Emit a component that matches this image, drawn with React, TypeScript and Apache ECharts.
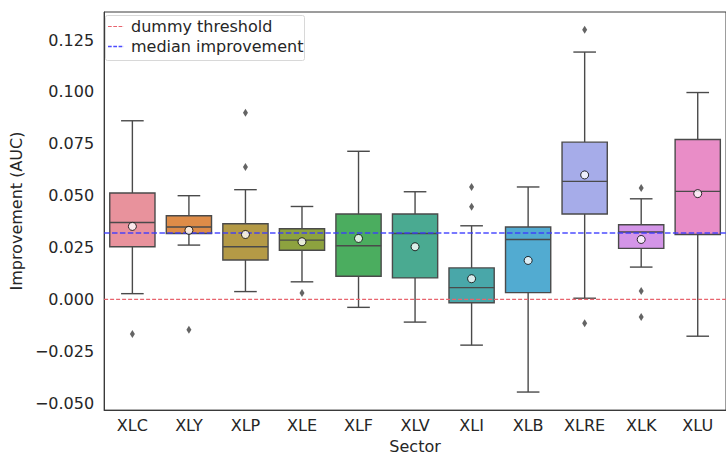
import React, { useEffect, useRef } from "react";
import * as echarts from "echarts";

const sectors = ["XLC", "XLY", "XLP", "XLE", "XLF", "XLV", "XLI", "XLB", "XLRE", "XLK", "XLU"];
const whiskerLow = [0.0028, 0.0262, 0.0038, 0.0085, -0.0038, -0.0109, -0.022, -0.0446, 0.0006, 0.0156, -0.0177];
const q1Values = [0.0254, 0.0318, 0.019, 0.0237, 0.0112, 0.0104, -0.0016, 0.0033, 0.0412, 0.0246, 0.0313];
const medianValues = [0.0371, 0.0349, 0.0254, 0.0286, 0.0259, 0.0318, 0.0057, 0.0289, 0.0569, 0.0325, 0.0521];
const q3Values = [0.0513, 0.0403, 0.0365, 0.0341, 0.0412, 0.0412, 0.0152, 0.0349, 0.0758, 0.036, 0.0771];
const whiskerHigh = [0.0861, 0.05, 0.0529, 0.0448, 0.0714, 0.0519, 0.0355, 0.0542, 0.1192, 0.0485, 0.0997];
const meanValues = [0.0352, 0.0333, 0.0313, 0.0278, 0.0294, 0.0254, 0.01, 0.0188, 0.06, 0.0289, 0.051];
const outliers = [
  [-0.0166],
  [-0.0146],
  [0.09, 0.0638],
  [0.0031],
  [],
  [],
  [0.0542, 0.0447],
  [],
  [0.13, -0.0114],
  [0.0537, 0.0041, -0.0084],
  [],
];
const boxColors = [
  "#e8929c", "#de8c48", "#b49a46", "#8da23f", "#4bad5f", "#4aaa91",
  "#49a7a9", "#52abd1", "#a6ace9", "#d495e8", "#e98dc7",
];
const refLineNames = ["dummy threshold", "median improvement"];
const refLineValues = [0, 0.032];
const yTicks = [-0.05, -0.025, 0, 0.025, 0.05, 0.075, 0.1, 0.125];

const EDGE = "#4a4a4a";
const TEXT = "#262626";
const FONT = "DejaVu Sans";
const FS = 16;
const refStyles = [
  { stroke: "#e8646e", lineWidth: 1.2, lineDash: [4, 2], opacity: 1 },
  { stroke: "#3a3aff", lineWidth: 1.5, lineDash: [5.5, 2.4], opacity: 0.9 },
];

export default function App() {
  const ref = useRef<HTMLDivElement>(null);
  useEffect(() => {
    if (!ref.current) return;
    const chart = echarts.init(ref.current, undefined, { renderer: "svg" });
    const boxData = sectors.map((_, i) => [i, whiskerLow[i], q1Values[i], medianValues[i], q3Values[i], whiskerHigh[i]]);
    const meanData = sectors.map((_, i) => [i, meanValues[i]]);
    const outlierData: number[][] = [];
    outliers.forEach((list, i) => list.forEach((v) => outlierData.push([i, v])));
    const refData = refLineValues.map((v) => [0, v]);

    const option: any = {
      animation: false,
      backgroundColor: "#ffffff",
      grid: {
        left: 101,
        top: 12,
        width: 633,
        height: 405,
        show: true,
        borderColor: "#3a3a3a",
        borderWidth: 1,
        containLabel: false,
      },
      xAxis: {
        type: "category",
        data: sectors,
        boundaryGap: true,
        name: "Sector",
        nameLocation: "middle",
        nameGap: 27,
        nameTextStyle: { color: TEXT, fontFamily: FONT, fontSize: FS },
        axisLine: { show: true, onZero: false, lineStyle: { color: "#3a3a3a", width: 1 } },
        axisTick: { show: false },
        axisLabel: { color: TEXT, fontFamily: FONT, fontSize: FS, margin: 7 },
        splitLine: { show: false },
      },
      yAxis: {
        type: "value",
        min: -0.0533,
        max: 0.1385,
        name: "Improvement (AUC)",
        nameLocation: "middle",
        nameGap: 73,
        nameTextStyle: { color: TEXT, fontFamily: FONT, fontSize: FS },
        axisLine: { show: true, onZero: false, lineStyle: { color: "#3a3a3a", width: 1 } },
        axisTick: { show: false, customValues: yTicks },
        axisLabel: {
          color: TEXT,
          fontFamily: FONT,
          fontSize: FS,
          margin: 10,
          customValues: yTicks,
          formatter: (v: number) => (v < -1e-9 ? "\u2212" : "") + Math.abs(v).toFixed(3),
        },
        splitLine: { show: false },
      },
      series: [
        {
          type: "custom",
          data: boxData,
          encode: { x: 0, y: [1, 2, 3, 4, 5] },
          z: 2,
          renderItem: (params: any, api: any) => {
            const idx = api.value(0);
            const low = api.coord([idx, api.value(1)]);
            const q1 = api.coord([idx, api.value(2)]);
            const med = api.coord([idx, api.value(3)]);
            const q3 = api.coord([idx, api.value(4)]);
            const high = api.coord([idx, api.value(5)]);
            const band = api.size([1, 0])[0];
            const bw = band * 0.8;
            const cw = bw / 2;
            const x = low[0];
            const lineStyle = { stroke: EDGE, lineWidth: 1.4 };
            return {
              type: "group",
              children: [
                { type: "line", shape: { x1: x, y1: high[1], x2: x, y2: q3[1] }, style: lineStyle },
                { type: "line", shape: { x1: x, y1: q1[1], x2: x, y2: low[1] }, style: lineStyle },
                { type: "line", shape: { x1: x - cw / 2, y1: high[1], x2: x + cw / 2, y2: high[1] }, style: lineStyle },
                { type: "line", shape: { x1: x - cw / 2, y1: low[1], x2: x + cw / 2, y2: low[1] }, style: lineStyle },
                {
                  type: "rect",
                  shape: { x: x - bw / 2, y: q3[1], width: bw, height: q1[1] - q3[1] },
                  style: { fill: boxColors[params.dataIndex], stroke: EDGE, lineWidth: 1.4 },
                },
                { type: "line", shape: { x1: x - bw / 2, y1: med[1], x2: x + bw / 2, y2: med[1] }, style: lineStyle },
              ],
            };
          },
        },
        {
          type: "scatter",
          data: outlierData,
          symbol: "diamond",
          symbolSize: [5, 8],
          itemStyle: { color: "#3d3d3d" },
          z: 3,
        },
        {
          type: "custom",
          name: "reference lines",
          data: refData,
          encode: { x: 0, y: 1 },
          z: 10,
          renderItem: (params: any, api: any) => {
            const cs = params.coordSys;
            const p = api.coord([0, api.value(1)]);
            return {
              type: "line",
              shape: { x1: cs.x, y1: p[1], x2: cs.x + cs.width, y2: p[1] },
              style: refStyles[params.dataIndex],
            };
          },
        },
        {
          type: "scatter",
          data: meanData,
          symbol: "circle",
          symbolSize: 8,
          itemStyle: { color: "#ffffff", borderColor: "#000000", borderWidth: 1 },
          z: 11,
        },
      ],
      graphic: [
        {
          type: "rect",
          shape: { x: 105.5, y: 15.5, width: 199, height: 45, r: 2 },
          style: { fill: "rgba(255,255,255,0.8)", stroke: "#d8d8d8", lineWidth: 1 },
          z: 100,
        },
        {
          type: "line",
          shape: { x1: 108, y1: 26.5, x2: 124, y2: 26.5 },
          style: { ...refStyles[0], lineDash: [3.7, 1.6] },
          z: 101,
        },
        {
          type: "line",
          shape: { x1: 108, y1: 46.5, x2: 124, y2: 46.5 },
          style: { ...refStyles[1], lineDash: [3.7, 1.6] },
          z: 101,
        },
        {
          type: "text",
          x: 131,
          y: 26,
          style: { text: refLineNames[0], fill: TEXT, font: `${FS}px "${FONT}"`, textVerticalAlign: "middle" },
          z: 101,
        },
        {
          type: "text",
          x: 131,
          y: 46,
          style: { text: refLineNames[1], fill: TEXT, font: `${FS}px "${FONT}"`, textVerticalAlign: "middle" },
          z: 101,
        },
      ],
    };
    chart.setOption(option);
    return () => chart.dispose();
  }, []);
  return <div ref={ref} style={{ position: "absolute", left: 0, top: 0, width: 726, height: 459 }} />;
}
